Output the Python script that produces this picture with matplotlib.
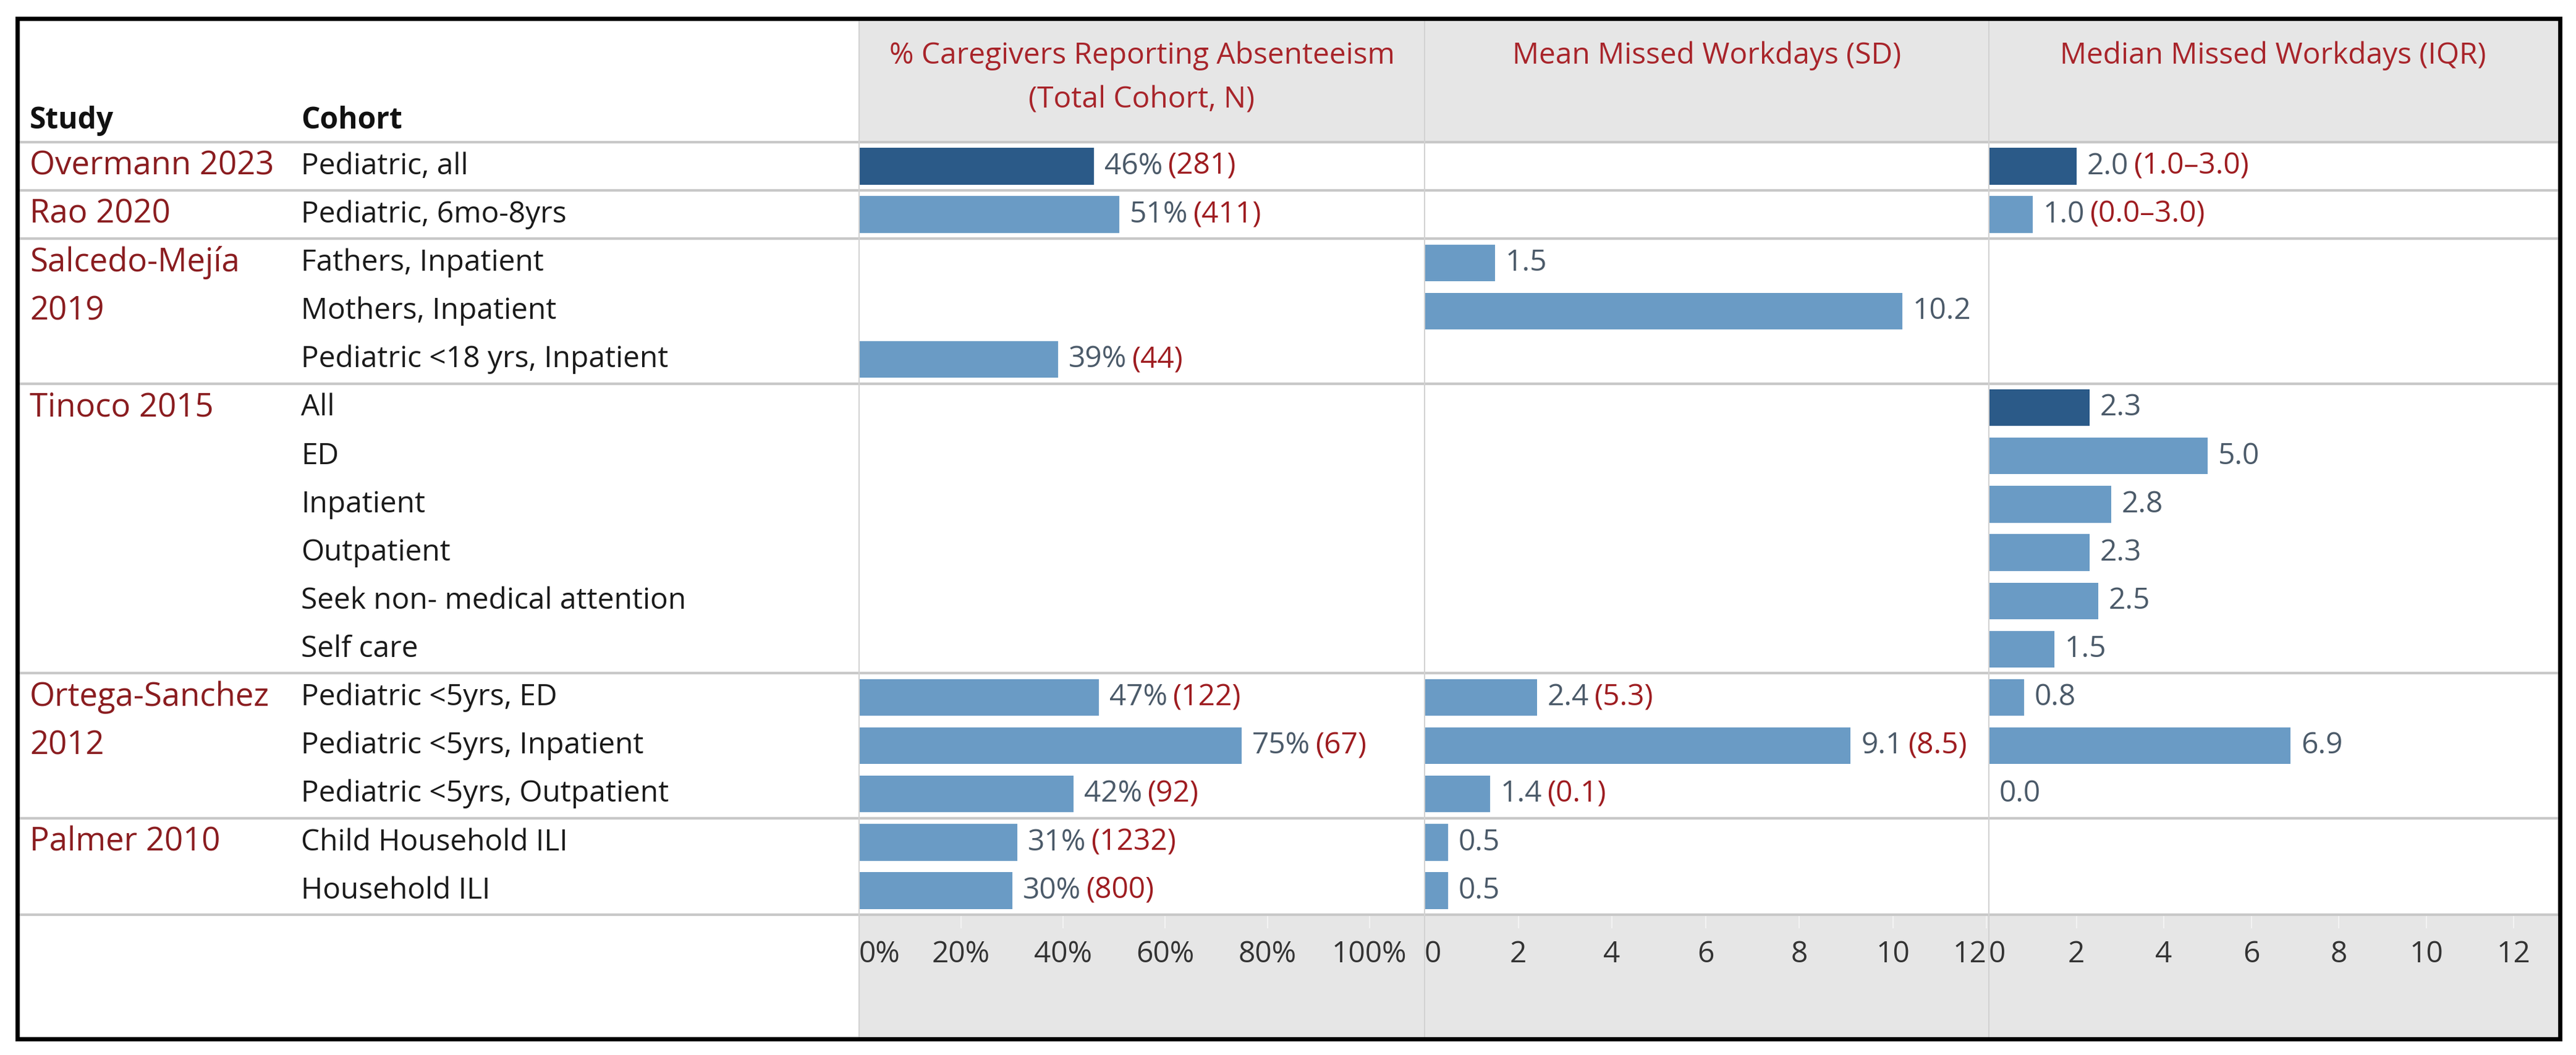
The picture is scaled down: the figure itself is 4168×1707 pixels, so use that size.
import matplotlib
matplotlib.use("Agg")
import matplotlib.pyplot as plt
from matplotlib.patches import Rectangle
from matplotlib.lines import Line2D

# ---------------- data ----------------
study_lines = [["Overmann 2023"], ["Rao 2020"], ["Salcedo-Mejía", "2019"],
               ["Tinoco 2015"], ["Ortega-Sanchez", "2012"], ["Palmer 2010"]]
study_rows = [1, 1, 3, 6, 3, 2]
cohorts = ["Pediatric, all", "Pediatric, 6mo-8yrs", "Fathers, Inpatient",
           "Mothers, Inpatient", "Pediatric <18 yrs, Inpatient", "All", "ED",
           "Inpatient", "Outpatient", "Seek non- medical attention", "Self care",
           "Pediatric <5yrs, ED", "Pediatric <5yrs, Inpatient",
           "Pediatric <5yrs, Outpatient", "Child Household ILI", "Household ILI"]
highlight = [True, False, False, False, False, True, False, False, False,
             False, False, False, False, False, False, False]
pct_absent = [46, 51, None, None, 39, None, None, None, None, None, None,
              47, 75, 42, 31, 30]
pct_n = [281, 411, None, None, 44, None, None, None, None, None, None,
         122, 67, 92, 1232, 800]
mean_days = [None, None, 1.5, 10.2, None, None, None, None, None, None, None,
             2.4, 9.1, 1.4, 0.5, 0.5]
mean_sd = [None, None, None, None, None, None, None, None, None, None, None,
           5.3, 8.5, 0.1, None, None]
median_days = [2.0, 1.0, None, None, None, 2.3, 5.0, 2.8, 2.3, 2.5, 1.5,
               0.8, 6.9, 0.0, None, None]
median_iqr = ["1.0–3.0", "0.0–3.0", None, None, None, None, None, None, None,
              None, None, None, None, None, None, None]
col_titles = ["% Caregivers Reporting Absenteeism\n(Total Cohort, N)",
              "Mean Missed Workdays (SD)", "Median Missed Workdays (IQR)"]
pct_ticks = [0, 20, 40, 60, 80, 100]
pct_tick_labels = ["0%", "20%", "40%", "60%", "80%", "100%"]
day_ticks = [0, 2, 4, 6, 8, 10, 12]
day_tick_labels = ["0", "2", "4", "6", "8", "10", "12"]

# ---------------- style ----------------
plt.rcParams['font.family'] = ['Open Sans', 'DejaVu Sans']
FS = 34.5
FS_STUDY = 38
W, H = 4168, 1707
LIGHT = "#6a9bc5"
DARK = "#2b5a88"
NUMC = "#4b5a69"
REDC = "#9e1c20"
STUDYC = "#8a1c1f"
HEADC = "#a8242a"
GRAY_BG = "#e6e6e6"
SEP = "#c8c8c8"
VLINE = "#d2d2d2"

fig = plt.figure(figsize=(W / 100, H / 100), dpi=100)
fig.patch.set_facecolor("white")


def fx(x):
    return x / W


def fy(y):
    return 1 - y / H


# layout (pixels)
L_IN, R_IN, T_IN, B_IN = 31, 4138, 33, 1678
P = [1390, 2305, 3218, R_IN]
ROW_TOP, ROW_BOT = 230, 1480
NROWS = len(cohorts)
RH = (ROW_BOT - ROW_TOP) / NROWS

# gray backgrounds (behind the axes)
fig.patches.append(Rectangle((fx(P[0]), fy(ROW_TOP)), fx(R_IN - P[0]), (ROW_TOP - T_IN) / H,
                             transform=fig.transFigure, facecolor=GRAY_BG, edgecolor="none", zorder=-5))
fig.patches.append(Rectangle((fx(P[0]), fy(B_IN)), fx(R_IN - P[0]), (B_IN - ROW_BOT) / H,
                             transform=fig.transFigure, facecolor=GRAY_BG, edgecolor="none", zorder=-5))

# panels
xlims = [(0, 110.8), (0, 12.05), (0, 13.0)]
ticks = [pct_ticks, day_ticks, day_ticks]
tlabels = [pct_tick_labels, day_tick_labels, day_tick_labels]
values = [pct_absent, mean_days, median_days]
extras = [pct_n, mean_sd, median_iqr]
axes = []
for k in range(3):
    ax = fig.add_axes([fx(P[k]), fy(ROW_BOT), fx(P[k + 1] - P[k]), (ROW_BOT - ROW_TOP) / H])
    ax.set_facecolor("none")
    ax.set_xlim(*xlims[k])
    ax.set_ylim(NROWS - 0.5, -0.5)
    for s in ax.spines.values():
        s.set_visible(False)
    ax.set_yticks([])
    ax.set_xticks(ticks[k])
    ax.set_xticklabels(tlabels[k])
    ax.tick_params(axis="x", length=16, width=1.5, color="#f3f3f3", pad=13,
                   labelsize=FS, labelcolor="#333333", direction="out")
    vals = values[k]
    ex = extras[k]
    for i, v in enumerate(vals):
        if v is None:
            continue
        col = DARK if highlight[i] else LIGHT
        ax.barh(i, v, height=0.76, color=col, edgecolor="none", zorder=2)
        if k == 0:
            num = f"{v:.0f}%"
        else:
            num = f"{v:.1f}"
        t = ax.annotate(num, xy=(v, i), xytext=(12, 0), textcoords="offset points",
                        ha="left", va="center", fontsize=FS, color=NUMC, zorder=3)
        if ex[i] is not None:
            if k == 1:
                par = f"({ex[i]:.1f})"
            else:
                par = f"({ex[i]})"
            ax.annotate(par, xy=(1, 0.5), xycoords=t, xytext=(6, 0), textcoords="offset points",
                        ha="left", va="center", fontsize=FS, color=REDC, zorder=3)
    axes.append(ax)

# edge tick label alignment (labels at the panel edges are kept inside)
for lab in (axes[0].get_xticklabels()[0], axes[1].get_xticklabels()[0],
            axes[2].get_xticklabels()[0]):
    lab.set_ha("left")
axes[1].get_xticklabels()[-1].set_ha("right")

# column titles
for k in range(3):
    cx = (P[k] + P[k + 1]) / 2
    fig.text(fx(cx), fy(66), col_titles[k], ha="center", va="top", fontsize=FS,
             color=HEADC, linespacing=1.68)

fig.text(fx(48), fy(195), "Study", ha="left", va="center", fontsize=FS,
         fontweight="bold", color="#111111")
fig.text(fx(487), fy(195), "Cohort", ha="left", va="center", fontsize=FS,
         fontweight="bold", color="#111111")

# study and cohort labels
r = 0
for lines, n in zip(study_lines, study_rows):
    for j, ln in enumerate(lines):
        fig.text(fx(48), fy(ROW_TOP + (r + j + 0.5) * RH), ln, ha="left", va="center",
                 fontsize=FS_STUDY, color=STUDYC)
    r += n
for i, c in enumerate(cohorts):
    fig.text(fx(487), fy(ROW_TOP + (i + 0.5) * RH), c, ha="left", va="center",
             fontsize=FS, color="#1a1a1a")

# horizontal separators
bounds = [0]
for n in study_rows:
    bounds.append(bounds[-1] + n)
for b in bounds:
    y = ROW_TOP + b * RH
    fig.add_artist(Line2D([fx(L_IN), fx(R_IN)], [fy(y), fy(y)], transform=fig.transFigure,
                          color=SEP, linewidth=3, zorder=4))

# vertical dividers
for x in P[:3]:
    fig.add_artist(Line2D([fx(x), fx(x)], [fy(T_IN), fy(B_IN)], transform=fig.transFigure,
                          color=VLINE, linewidth=1.5, zorder=4))

# outer border
fig.patches.append(Rectangle((fx(28), fy(1681)), fx(4142 - 28), (1681 - 30) / H,
                             transform=fig.transFigure, facecolor="none", edgecolor="black",
                             linewidth=5, zorder=10))

fig.savefig("out.png", dpi=100)
